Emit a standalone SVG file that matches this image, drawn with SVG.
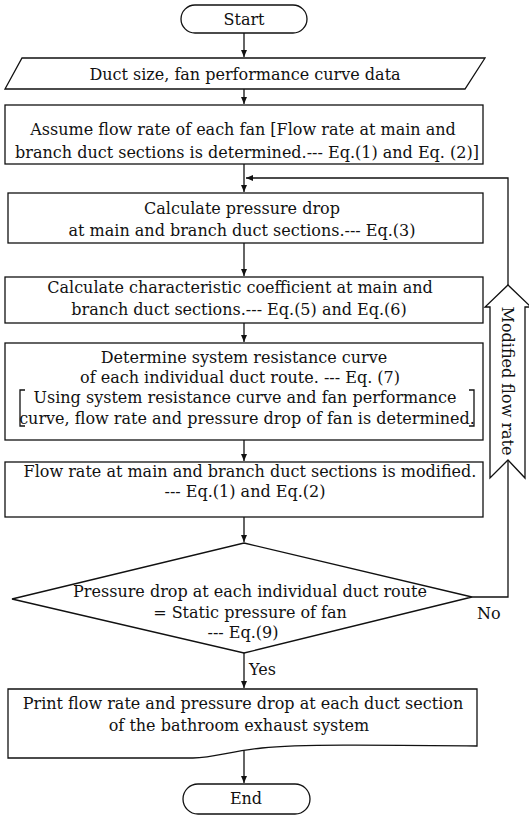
<svg xmlns="http://www.w3.org/2000/svg" width="529" height="816" viewBox="0 0 529 816">
<style>
  .s { fill: #fff; stroke: #111; stroke-width: 1.3; }
  .l { fill: none; stroke: #111; stroke-width: 1.3; }
  text { font-family: "DejaVu Serif", "Liberation Serif", serif; font-size: 16px; fill: #111; }
  .c { text-anchor: middle; }
</style>
<defs>
  <marker id="ah" markerWidth="8" markerHeight="8" refX="7" refY="4" orient="auto" markerUnits="userSpaceOnUse">
    <path d="M0,1 L7,4 L0,7 Z" fill="#111"/>
  </marker>
</defs>
<rect width="529" height="816" fill="#fff"/>

<g id="connectors">
  <line class="l" x1="244" y1="33" x2="244" y2="57" marker-end="url(#ah)"/>
  <line class="l" x1="244" y1="89" x2="244" y2="104" marker-end="url(#ah)"/>
  <line class="l" x1="244" y1="164" x2="244" y2="192" marker-end="url(#ah)"/>
  <line class="l" x1="244" y1="243" x2="244" y2="276" marker-end="url(#ah)"/>
  <line class="l" x1="244" y1="323" x2="244" y2="342" marker-end="url(#ah)"/>
  <line class="l" x1="244" y1="440" x2="244" y2="461" marker-end="url(#ah)"/>
  <line class="l" x1="244" y1="517" x2="244" y2="542" marker-end="url(#ah)"/>
  <line class="l" x1="244" y1="653" x2="244" y2="688" marker-end="url(#ah)"/>
  <line class="l" x1="244" y1="749" x2="244" y2="783" marker-end="url(#ah)"/>
  <!-- feedback loop -->
  <polyline class="l" points="472,597 508,597 508,460"/>
  <polyline class="l" points="508,285 508,178 246,178" marker-end="url(#ah)"/>
  <path class="s" d="M508,285 L531,307 L525,307 L525,478 L508,460 L490,478 L490,307 L485,307 Z"/>
  <text class="c" transform="translate(502,381) rotate(90)">Modified flow rate</text>
  <text x="477" y="619">No</text>
  <text x="249" y="675">Yes</text>
</g>

<g id="start">
  <rect class="s" x="181" y="5" width="126" height="28" rx="14"/>
  <text class="c" x="244" y="25">Start</text>
</g>

<g id="input">
  <path class="s" d="M22,58 L485,58 L465,89 L5,89 Z"/>
  <text class="c" x="245" y="80">Duct size, fan performance curve data</text>
</g>

<g id="assume">
  <rect class="s" x="5" y="105" width="478" height="59"/>
  <text class="c" x="243" y="135">Assume flow rate of each fan [Flow rate at main and</text>
  <text class="c" x="247" y="158">branch duct sections is determined.--- Eq.(1) and Eq. (2)]</text>
</g>

<g id="pressure">
  <rect class="s" x="8" y="193" width="475" height="50"/>
  <text class="c" x="242" y="214">Calculate pressure drop</text>
  <text class="c" x="242" y="236">at main and branch duct sections.--- Eq.(3)</text>
</g>

<g id="coefficient">
  <rect class="s" x="5" y="277" width="478" height="46"/>
  <text class="c" x="240" y="293">Calculate characteristic coefficient at main and</text>
  <text class="c" x="239" y="315">branch duct sections.--- Eq.(5) and Eq.(6)</text>
</g>

<g id="resistance">
  <rect class="s" x="5" y="343" width="478" height="97"/>
  <text class="c" x="244" y="363">Determine system resistance curve</text>
  <text class="c" x="240" y="383">of each individual duct route. --- Eq. (7)</text>
  <path class="l" d="M25,390 H20 V426 H25"/>
  <path class="l" d="M469,390 H474 V426 H469"/>
  <text class="c" x="245" y="403">Using system resistance curve and fan performance</text>
  <text class="c" x="247" y="424">curve, flow rate and pressure drop of fan is determined.</text>
</g>

<g id="modify">
  <rect class="s" x="5" y="462" width="478" height="55"/>
  <text class="c" x="250" y="477">Flow rate at main and branch duct sections is modified.</text>
  <text class="c" x="245" y="497">--- Eq.(1) and Eq.(2)</text>
</g>

<g id="decision">
  <path class="s" d="M244,543 L472,597 L244,653 L12,599 Z"/>
  <text class="c" x="250" y="597">Pressure drop at each individual duct route</text>
  <text class="c" x="250" y="618">= Static pressure of fan</text>
  <text class="c" x="243" y="638">--- Eq.(9)</text>
</g>

<g id="print">
  <path class="s" d="M8,689 H477 V746 C380,745 300,744 262,748 C230,751 215,758 193,758 H8 Z"/>
  <text class="c" x="243" y="709">Print flow rate and pressure drop at each duct section</text>
  <text class="c" x="239" y="731">of the bathroom exhaust system</text>
</g>

<g id="end">
  <rect class="s" x="183" y="784" width="127" height="30" rx="15"/>
  <text class="c" x="246" y="804">End</text>
</g>
</svg>
